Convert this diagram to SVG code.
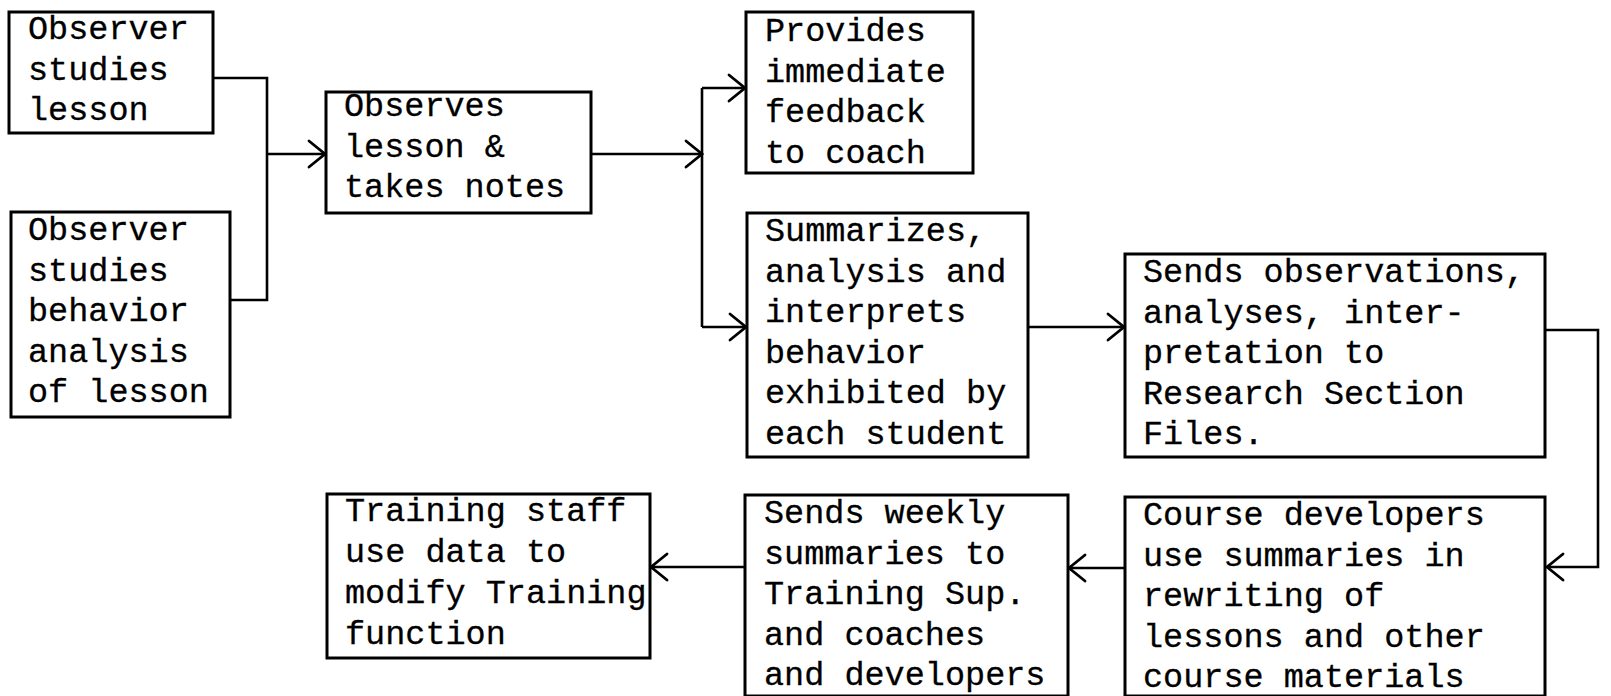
<svg xmlns="http://www.w3.org/2000/svg" width="1611" height="696" viewBox="0 0 1611 696">
  <style>
    .box { fill: #fff; stroke: #000; stroke-width: 3; }
    .lbl { font-family: "Liberation Mono", "Courier New", monospace; font-size: 33.5px; fill: #000; stroke: #000; stroke-width: 0.3; }
    .wire { fill: none; stroke: #000; stroke-width: 2.6; stroke-linejoin: miter; }
  </style>
  <defs>
    <marker id="arrow" markerUnits="userSpaceOnUse" markerWidth="24" markerHeight="30" refX="20" refY="13" orient="auto" overflow="visible">
      <path d="M 4 0 L 20 13 L 4 26" fill="none" stroke="#000" stroke-width="2.8" stroke-linecap="round" stroke-linejoin="miter"/>
    </marker>
  </defs>

  <rect width="1611" height="696" fill="#fff"/>

  <!-- connectors -->
  <g id="connectors">
    <polyline class="wire" points="213,78 267,78 267,300 230,300"/>
    <line class="wire" x1="267" y1="154" x2="325" y2="154" marker-end="url(#arrow)"/>
    <line class="wire" x1="591" y1="154" x2="702" y2="154" marker-end="url(#arrow)"/>
    <line class="wire" x1="702" y1="88" x2="702" y2="327"/>
    <line class="wire" x1="702" y1="88" x2="745" y2="88" marker-end="url(#arrow)"/>
    <line class="wire" x1="702" y1="327" x2="746" y2="327" marker-end="url(#arrow)"/>
    <line class="wire" x1="1028" y1="327" x2="1124" y2="327" marker-end="url(#arrow)"/>
    <polyline class="wire" points="1545,330 1598,330 1598,567 1547,567" marker-end="url(#arrow)"/>
    <line class="wire" x1="1125" y1="568" x2="1069" y2="568" marker-end="url(#arrow)"/>
    <line class="wire" x1="745" y1="567" x2="651" y2="567" marker-end="url(#arrow)"/>
  </g>

  <g id="observer-studies-lesson">
    <rect class="box" x="9" y="12" width="204" height="121"/>
    <text class="lbl" x="28" y="39">Observer</text>
    <text class="lbl" x="28" y="79.5">studies</text>
    <text class="lbl" x="28" y="120">lesson</text>
  </g>

  <g id="observer-studies-behavior">
    <rect class="box" x="11" y="212" width="219" height="205"/>
    <text class="lbl" x="28" y="240">Observer</text>
    <text class="lbl" x="28" y="280.5">studies</text>
    <text class="lbl" x="28" y="321">behavior</text>
    <text class="lbl" x="28" y="361.5">analysis</text>
    <text class="lbl" x="28" y="402">of lesson</text>
  </g>

  <g id="observes-lesson">
    <rect class="box" x="326" y="92" width="265" height="121"/>
    <text class="lbl" x="344" y="116">Observes</text>
    <text class="lbl" x="344" y="156.5">lesson &amp;</text>
    <text class="lbl" x="344" y="197">takes notes</text>
  </g>

  <g id="provides-feedback">
    <rect class="box" x="746" y="12" width="227" height="161"/>
    <text class="lbl" x="765" y="41">Provides</text>
    <text class="lbl" x="765" y="81.5">immediate</text>
    <text class="lbl" x="765" y="122">feedback</text>
    <text class="lbl" x="765" y="162.5">to coach</text>
  </g>

  <g id="summarizes">
    <rect class="box" x="747" y="213" width="281" height="244"/>
    <text class="lbl" x="765" y="241">Summarizes,</text>
    <text class="lbl" x="765" y="281.5">analysis and</text>
    <text class="lbl" x="765" y="322">interprets</text>
    <text class="lbl" x="765" y="362.5">behavior</text>
    <text class="lbl" x="765" y="403">exhibited by</text>
    <text class="lbl" x="765" y="443.5">each student</text>
  </g>

  <g id="sends-observations">
    <rect class="box" x="1125" y="254" width="420" height="203"/>
    <text class="lbl" x="1143" y="282">Sends observations,</text>
    <text class="lbl" x="1143" y="322.5">analyses, inter-</text>
    <text class="lbl" x="1143" y="363">pretation to</text>
    <text class="lbl" x="1143" y="403.5">Research Section</text>
    <text class="lbl" x="1143" y="444">Files.</text>
  </g>

  <g id="course-developers">
    <rect class="box" x="1125" y="497" width="420" height="199"/>
    <text class="lbl" x="1143" y="525">Course developers</text>
    <text class="lbl" x="1143" y="565.5">use summaries in</text>
    <text class="lbl" x="1143" y="606">rewriting of</text>
    <text class="lbl" x="1143" y="646.5">lessons and other</text>
    <text class="lbl" x="1143" y="687">course materials</text>
  </g>

  <g id="sends-weekly">
    <rect class="box" x="745" y="495" width="323" height="201"/>
    <text class="lbl" x="764" y="523">Sends weekly</text>
    <text class="lbl" x="764" y="563.5">summaries to</text>
    <text class="lbl" x="764" y="604">Training Sup.</text>
    <text class="lbl" x="764" y="644.5">and coaches</text>
    <text class="lbl" x="764" y="685">and developers</text>
  </g>

  <g id="training-staff">
    <rect class="box" x="327" y="494" width="323" height="164"/>
    <text class="lbl" x="345" y="521">Training staff</text>
    <text class="lbl" x="345" y="562">use data to</text>
    <text class="lbl" x="345" y="603">modify Training</text>
    <text class="lbl" x="345" y="644">function</text>
  </g>
</svg>
